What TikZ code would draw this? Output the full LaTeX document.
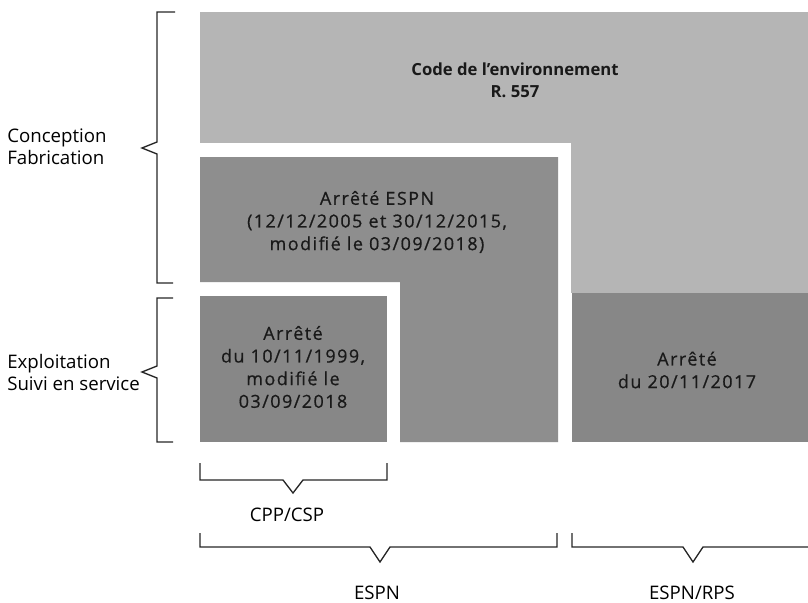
\documentclass[tikz,border=0pt]{standalone}
\usepackage{fontspec}
\setmainfont{Open Sans}
\newfontfamily\spacedfont[LetterSpace=8,FakeBold=0.6]{Open Sans}
\usepackage{xcolor}
\usetikzlibrary{positioning,calc}
\definecolor{codegray}{HTML}{B5B5B5}
\definecolor{espngray}{HTML}{8E8E8E}
\definecolor{cppgray}{HTML}{878787}

\begin{document}
\begin{tikzpicture}[
    x=0.75pt, y=-0.75pt,
    sidetext/.style={font=\fontsize{14}{16.5}\selectfont, align=left, anchor=west, inner sep=0pt},
    boxtext/.style={font=\spacedfont\fontsize{13.5}{17}\selectfont, align=center, text=black!90, inner sep=0pt},
    scopetext/.style={font=\fontsize{14}{16.5}\selectfont, inner sep=0pt},
    brace/.style={draw=black!85, line width=1pt, line join=miter}
]
\useasboundingbox (0,0) rectangle (808,603);
\fill[codegray] (200,12) rectangle (808,293);
\fill[white] (196,143) rectangle (571,446);
\fill[espngray] (200,157) -- (558,157) -- (558,442) -- (400,442) -- (400,282) -- (200,282) -- cycle;
\fill[cppgray] (200,296) rectangle (387,442);
\fill[cppgray] (572,293) rectangle (808,442);
\node[boxtext, font=\fontsize{12.5}{16.5}\selectfont\bfseries] (code) at (515,80) {Code de l’environnement\\R. 557};
\node[boxtext] (espn) at (377,222) {Arrêté ESPN\\(12/12/2005 et 30/12/2015,\\modifié le 03/09/2018)};
\node[boxtext] (cpp) at (293,367) {Arrêté\\du 10/11/1999,\\modifié le\\03/09/2018};
\node[boxtext] (rps) at (687,370) {Arrêté\\du 20/11/2017};
\node[sidetext] (conc) at (7,147) {Conception\\Fabrication};
\node[sidetext] (expl) at (7,372) {Exploitation\\Suivi en service};
\draw[brace] (175,12) -- (157,12) -- (157,142) -- (142,148) -- (157,154) -- (157,283) -- (173,283);
\draw[brace] (173,298) -- (157,298) -- (157,366) -- (142,372) -- (157,378) -- (157,442) -- (173,442);
\draw[brace] (200,463) -- (200,480) -- (283,480) -- (293,493) -- (303,480) -- (387,480) -- (387,463);
\draw[brace] (200,533) -- (200,547) -- (370,547) -- (380,562) -- (390,547) -- (557,547) -- (557,533);
\draw[brace] (572,533) -- (572,547) -- (683,547) -- (693,562) -- (703,547) -- (808,547);
\node[scopetext] (csp) at (287,515) {CPP/CSP};
\node[scopetext] (espnlab) at (377,593) {ESPN};
\node[scopetext] (rpslab) at (692,593) {ESPN/RPS};
\end{tikzpicture}
\end{document}
